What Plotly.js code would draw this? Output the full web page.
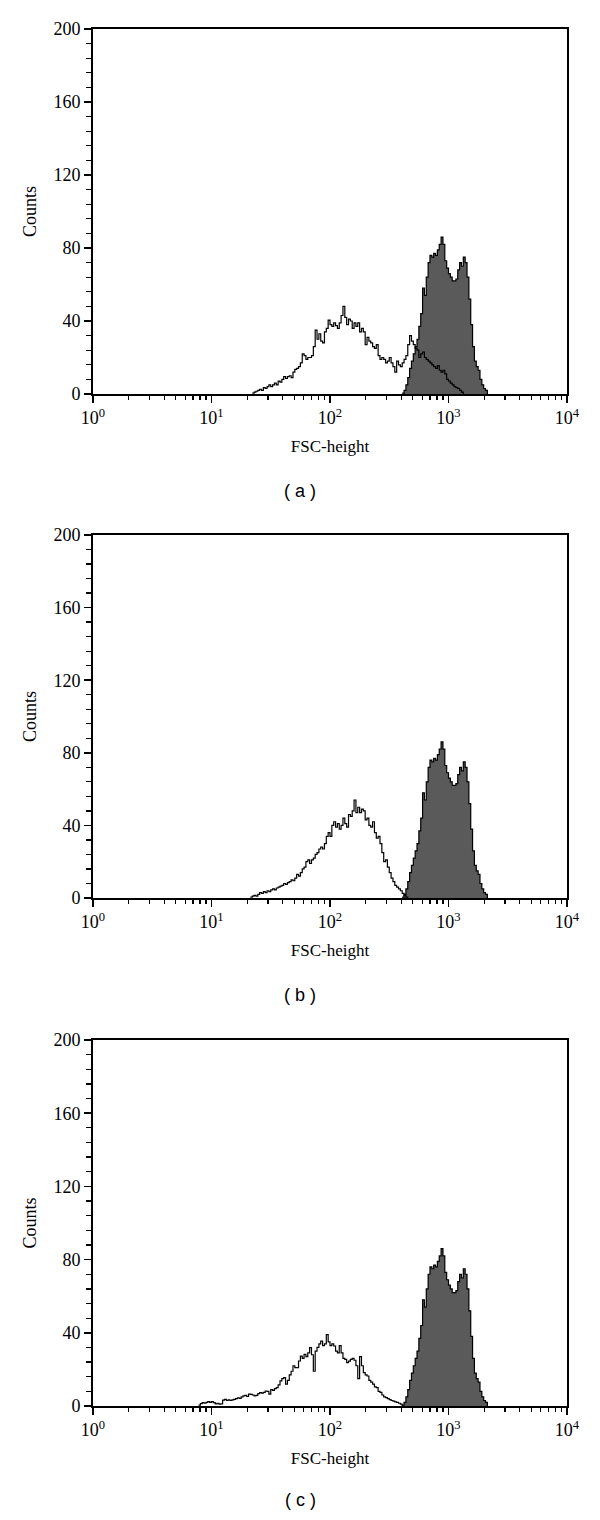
<!DOCTYPE html>
<html>
<head>
<meta charset="utf-8">
<script src="https://cdn.plot.ly/plotly-3.0.1.min.js"></script>
<style>html,body{margin:0;padding:0;background:#fff;}#chart{width:600px;height:1520px;}</style>
</head>
<body>
<div id="chart"></div>
<script>
// Histogram channels: 64 channels per decade, 4 decades (channel c -> FSC = 10^(c/64))
const CHANNELS_PER_DECADE = 64;
const panelLabels = ['( a )', '( b )', '( c )'];
const xTickVals = [1, 10, 100, 1000, 10000];
const xTickText = ['10<sup>0</sup>', '10<sup>1</sup>', '10<sup>2</sup>', '10<sup>3</sup>', '10<sup>4</sup>'];
const yTickVals = [0, 40, 80, 120, 160, 200];

// Filled (reference) histogram, identical in all three panels
const filledStart = 167;
const filledCounts = [0.5, 2, 5, 9, 14, 18, 22, 26, 30, 37, 44, 58, 54, 64, 72, 76, 75, 77, 76, 79,
  82, 86, 82, 73, 69, 66, 64, 62, 62, 63, 68, 72, 70, 75, 72, 64, 52, 38, 26, 18,
  15, 13, 8, 5, 3, 2, 0];

// Open histogram, panel (a)
const aStart = 86;
const aCounts = [0.5, 1, 1.5, 2, 2.6, 2, 3.5, 3, 4, 5, 4, 5, 6, 5, 7, 6.5, 8, 9.5, 8.5, 9.5,
  10, 9, 12, 13.5, 14, 15, 17, 22, 21, 19, 20, 20, 21, 26, 35, 30, 33, 29, 28, 34,
  36, 40.5, 38, 37, 39, 37.5, 36, 39, 43, 48, 42, 38, 41, 40, 36, 39, 37, 39, 34, 36,
  34, 27, 31, 29, 28, 26, 25, 27, 21, 19, 20, 19, 17, 18, 20, 17, 15, 12, 18, 16,
  15, 17, 19, 21, 27, 32, 29, 27, 25, 24, 20, 22, 23, 20, 19, 18, 17, 16, 15, 14,
  15.5, 13, 12, 13, 11, 8, 7, 6, 5, 4, 3.5, 3, 2, 1, 0];

// Open histogram, panel (b)
const bStart = 85;
const bCounts = [0.5, 1, 1.5, 1, 2, 3, 2.5, 3.5, 3, 4, 3.5, 4.5, 5, 4.5, 5.5, 6, 6.5, 7, 8, 7.5,
  8.5, 9, 10, 9.5, 11, 13, 12, 14, 16, 17, 20, 21, 19, 21, 22, 24, 25, 27, 28, 27,
  30, 34, 36, 34, 40, 42, 39, 41, 38, 40, 44, 41, 39, 46, 45, 48, 54, 47, 50, 47,
  49, 48, 43, 44, 40, 39, 42, 36, 33, 34, 30, 25, 20, 21, 17, 14, 11, 9, 7, 6,
  5, 4, 2.5, 1.5, 0.5, 0];

// Open histogram, panel (c)
const cStart = 57;
const cCounts = [0.5, 1.3, 1.8, 1.5, 2, 2.4, 2, 2.4, 1.8, 1.2, 1.5, 1, 1.2, 3.2, 3.6, 3.1, 3.4, 3, 3.3, 3.6,
  4, 4.4, 4.2, 5, 5.5, 5.8, 5.2, 6.5, 6.4, 6, 5.5, 5.8, 6.8, 7.3, 7, 7.5, 8.2, 8, 6.5, 9,
  8.5, 9.5, 10, 11.5, 13.7, 15, 15.5, 12, 14, 17, 19, 22, 21, 20.9, 24.6, 27.3, 26, 28.2, 27, 29,
  31.9, 28, 19, 30, 32, 34, 35.5, 33, 34, 39, 35, 33, 34, 32.8, 30, 29, 33, 29, 26, 25.5,
  23.7, 24.5, 25.5, 26, 25, 22, 15, 27, 22, 18.2, 17, 16.4, 14, 13, 12, 10.5, 10, 8, 7.5, 6,
  5, 4.6, 4, 3.5, 3, 2.7, 2.3, 2, 1.5, 1, 0];

function chanX(start, n) {
  const out = [];
  for (let i = 0; i < n; i++) out.push(Math.pow(10, (start + i) / CHANNELS_PER_DECADE));
  return out;
}

const openSets = [[aStart, aCounts], [bStart, bCounts], [cStart, cCounts]];
const yDomains = [[1 - 394 / 1520, 1 - 29 / 1520], [1 - 898 / 1520, 1 - 535 / 1520], [1 - 1406 / 1520, 1 - 1040 / 1520]];
const labelY = [1 - 491 / 1520, 1 - 995 / 1520, 1 - 1500 / 1520];

const serif = 'Liberation Serif, Times New Roman, serif';
const data = [];
const layout = {
  width: 600, height: 1520,
  margin: {l: 0, r: 0, t: 0, b: 0},
  paper_bgcolor: '#fff', plot_bgcolor: '#fff',
  showlegend: false,
  font: {family: serif, size: 18, color: '#000'},
  annotations: []
};

for (let p = 0; p < 3; p++) {
  const xa = p === 0 ? 'x' : 'x' + (p + 1);
  const ya = p === 0 ? 'y' : 'y' + (p + 1);
  data.push({
    type: 'scatter', mode: 'lines', xaxis: xa, yaxis: ya,
    x: chanX(filledStart, filledCounts.length), y: filledCounts,
    line: {shape: 'hv', color: '#000', width: 1.2},
    fill: 'tozeroy', fillcolor: '#5a5a5a', hoverinfo: 'skip'
  });
  const [st, cnt] = openSets[p];
  data.push({
    type: 'scatter', mode: 'lines', xaxis: xa, yaxis: ya,
    x: chanX(st, cnt.length), y: cnt,
    line: {shape: 'hv', color: '#000', width: 1.2}, hoverinfo: 'skip'
  });
  const xKey = p === 0 ? 'xaxis' : 'xaxis' + (p + 1);
  const yKey = p === 0 ? 'yaxis' : 'yaxis' + (p + 1);
  layout[xKey] = {
    type: 'log', range: [0, 4], domain: [93 / 600, 567 / 600], anchor: ya,
    showgrid: false, zeroline: false,
    showline: true, linecolor: '#000', linewidth: 1.8, mirror: true,
    ticks: 'outside', ticklen: 7, tickwidth: 1.5, tickcolor: '#000',
    tickmode: 'array', tickvals: xTickVals, ticktext: xTickText,
    tickfont: {family: serif, size: 18, color: '#000'},
    minor: {dtick: 'D1', ticks: 'outside', ticklen: 4, tickwidth: 1.3, tickcolor: '#000', showgrid: false},
    title: {text: 'FSC-height', font: {family: serif, size: 17, color: '#000'}, standoff: 13},
    fixedrange: true
  };
  layout[yKey] = {
    range: [0, 200], domain: yDomains[p], anchor: xa,
    showgrid: false, zeroline: false,
    showline: true, linecolor: '#000', linewidth: 1.8, mirror: true,
    ticks: 'outside', ticklen: 7, tickwidth: 1.5, tickcolor: '#000',
    tickmode: 'array', tickvals: yTickVals,
    tickfont: {family: serif, size: 18, color: '#000'},
    minor: {dtick: 8, ticks: 'outside', ticklen: 5, tickwidth: 1.3, tickcolor: '#000', showgrid: false},
    title: {text: 'Counts', font: {family: serif, size: 18, color: '#000'}, standoff: 12},
    fixedrange: true
  };
  layout.annotations.push({
    xref: 'paper', yref: 'paper', x: 0.5, y: labelY[p], xanchor: 'center', yanchor: 'middle',
    text: panelLabels[p], showarrow: false,
    font: {family: 'Liberation Sans, Arial, sans-serif', size: 18, color: '#000'}
  });
}

Plotly.newPlot('chart', data, layout, {staticPlot: true, displayModeBar: false});
</script>
</body>
</html>
